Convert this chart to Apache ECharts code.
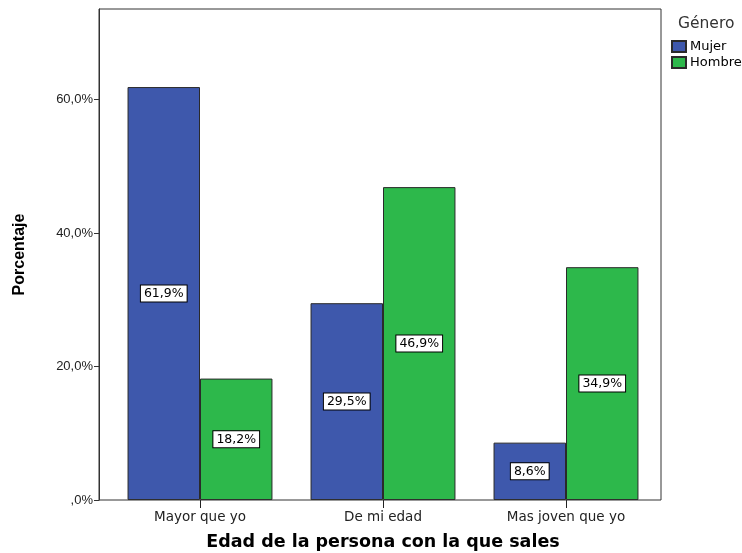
<!DOCTYPE html>
<html>
<head>
<meta charset="utf-8">
<script src="https://cdn.jsdelivr.net/npm/echarts@6/dist/echarts.min.js"></script>
<style>html,body{margin:0;padding:0;background:#fff}#c{width:742px;height:553px}</style>
</head>
<body>
<div id="c"></div>
<script>
const categories = ['Mayor que yo', 'De mi edad', 'Mas joven que yo'];
const mujer = [61.9, 29.5, 8.6];
const hombre = [18.2, 46.9, 34.9];
const yTicks = [0, 20, 40, 60];
const seriesNames = ['Mujer', 'Hombre'];
const legendTitle = 'Género';

function pct(v) {
  if (v === 0) return ',0%';
  return v.toFixed(1).replace('.', ',') + '%';
}

const labelStyle = {
  show: true,
  position: 'inside',
  formatter: p => pct(p.value),
  color: '#000',
  fontFamily: 'DejaVu Sans',
  fontSize: 12.5,
  backgroundColor: '#fff',
  borderColor: '#000',
  borderWidth: 1,
  padding: [2, 3, 1, 3]
};

const chart = echarts.init(document.getElementById('c'), null, {renderer: 'canvas'});
chart.setOption({
  animation: false,
  backgroundColor: '#fff',
  title: {
    text: legendTitle,
    left: 673, top: 11,
    textStyle: {fontFamily: 'DejaVu Sans', fontSize: 15.5, fontWeight: 'normal', color: '#333'}
  },
  legend: {
    orient: 'vertical',
    left: 671, top: 40,
    padding: 0,
    itemWidth: 14, itemHeight: 11, itemGap: 3,
    icon: 'rect',
    data: seriesNames,
    textStyle: {fontFamily: 'DejaVu Sans', fontSize: 13, color: '#000', padding: [0, 0, 0, -1]}
  },
  grid: [
    {left: 108.5, right: 84.5, top: 9, bottom: 53, containLabel: false, outerBoundsMode: 'none'},
    {left: 99, right: 81, top: 9, bottom: 53, show: true, borderColor: '#333', borderWidth: 1, backgroundColor: 'transparent', z: 3, outerBoundsMode: 'none'}
  ],
  xAxis: [
    {
      type: 'category', gridIndex: 0, data: categories,
      axisLine: {show: false},
      axisTick: {show: true, alignWithLabel: true, length: 8, lineStyle: {color: '#222'}},
      axisLabel: {fontFamily: 'DejaVu Sans', fontSize: 13.5, color: '#222', margin: 10},
      name: 'Edad de la persona con la que sales',
      nameLocation: 'middle', nameGap: 33,
      nameTextStyle: {fontFamily: 'DejaVu Sans', fontWeight: 'bold', fontSize: 17.5, color: '#000'}
    },
    {type: 'category', gridIndex: 1, show: false, data: categories}
  ],
  yAxis: [
    {type: 'value', gridIndex: 0, min: 0, max: 73.6, show: false, splitLine: {show: false}},
    {
      type: 'value', gridIndex: 1, min: 0, max: 73.6, interval: 20,
      axisLine: {show: true, lineStyle: {color: '#333'}},
      axisTick: {show: true, length: 5, lineStyle: {color: '#333'}, customValues: yTicks},
      axisLabel: {fontFamily: 'Liberation Sans', fontSize: 13, color: '#222', margin: 6, customValues: yTicks, formatter: v => pct(v)},
      splitLine: {show: false},
      name: 'Porcentaje', nameLocation: 'middle', nameGap: 71, nameRotate: 90,
      nameTextStyle: {fontFamily: 'Liberation Sans', fontWeight: 'bold', fontSize: 16, color: '#000'}
    }
  ],
  series: [
    {
      name: seriesNames[0], type: 'bar', xAxisIndex: 0, yAxisIndex: 0, data: mujer,
      barGap: '0%', barCategoryGap: '20.8%',
      itemStyle: {color: '#3E58AC', borderColor: '#2a2a2a', borderWidth: 1},
      label: labelStyle
    },
    {
      name: seriesNames[1], type: 'bar', xAxisIndex: 0, yAxisIndex: 0, data: hombre,
      barGap: '0%', barCategoryGap: '20.8%',
      itemStyle: {color: '#2DB84B', borderColor: '#2a2a2a', borderWidth: 1},
      label: labelStyle
    }
  ]
});
</script>
</body>
</html>
